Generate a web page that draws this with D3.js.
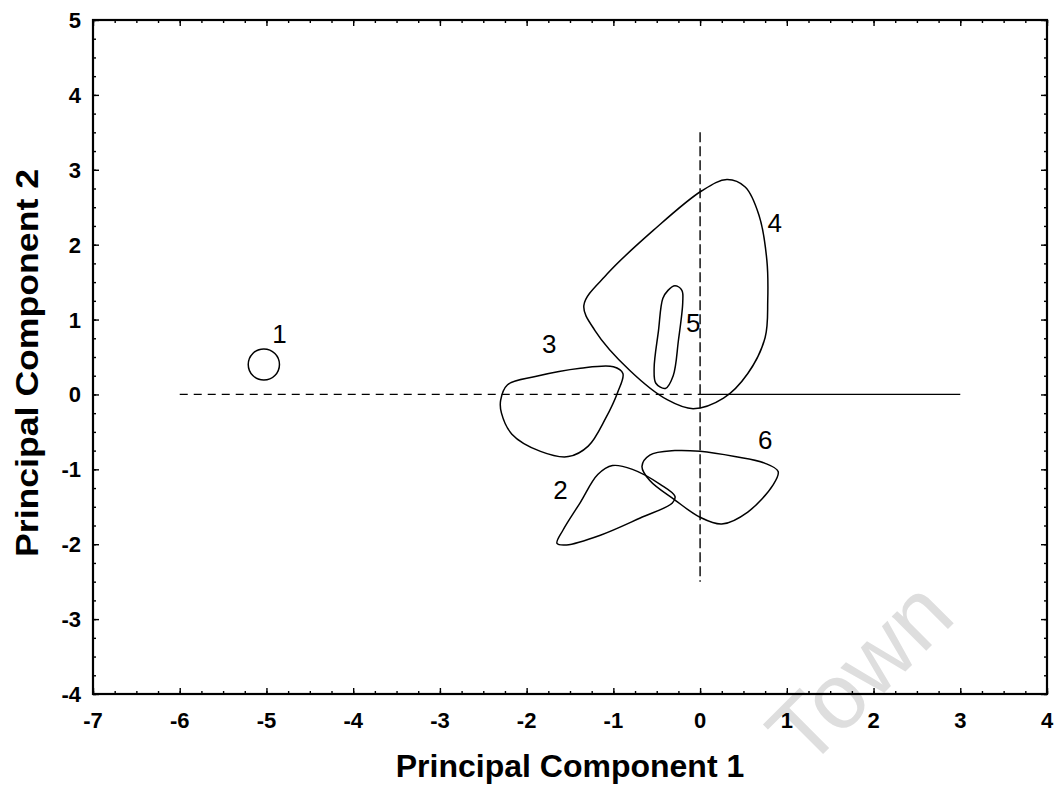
<!DOCTYPE html>
<html>
<head>
<meta charset="utf-8">
<script src="https://cdn.jsdelivr.net/npm/d3@7"></script>
<style>
  body { margin: 0; background: #fff; }
  svg { display: block; font-family: "Liberation Sans", Arial, sans-serif; }
  .tick-label { font-size: 22px; font-weight: bold; fill: #000; }
  .axis-title { font-size: 32px; font-weight: bold; fill: #000; }
  .group-label { font-size: 26px; fill: #000; }
</style>
</head>
<body>
<figure style="margin:0"></figure>
<script>
// tick values
const xTicks = [-7, -6, -5, -4, -3, -2, -1, 0, 1, 2, 3, 4];
const yTicks = [-4, -3, -2, -1, 0, 1, 2, 3, 4, 5];

// group 1 is a small circle
const group1Center = [-5.03, 0.4];
const group1Radius = 0.18;

// closed contours, [pc1, pc2]
const group2 = [[-1.01, -0.95], [-1.18, -1.07], [-1.38, -1.44], [-1.58, -1.81], [-1.65, -1.99],
  [-1.54, -2.01], [-1.15, -1.88], [-0.69, -1.65], [-0.32, -1.45], [-0.29, -1.36], [-0.46, -1.2], [-0.78, -1.0]];
const group3 = [[-2.3, -0.08], [-2.22, 0.13], [-1.9, 0.24], [-1.38, 0.35], [-1.0, 0.37], [-0.89, 0.28],
  [-0.95, 0.03], [-1.09, -0.32], [-1.29, -0.69], [-1.52, -0.83], [-1.84, -0.76], [-2.17, -0.53], [-2.29, -0.25]];
const group4 = [[-1.34, 1.19], [-1.07, 1.61], [-0.54, 2.19], [0.02, 2.72], [0.31, 2.87], [0.52, 2.77],
  [0.68, 2.39], [0.77, 1.79], [0.78, 1.25], [0.75, 0.76], [0.55, 0.28], [0.27, -0.05], [-0.08, -0.19],
  [-0.38, -0.07], [-0.81, 0.32], [-1.21, 0.85]];
const group5 = [[-0.37, 1.39], [-0.29, 1.45], [-0.21, 1.39], [-0.2, 1.23], [-0.25, 0.72], [-0.31, 0.25],
  [-0.4, 0.08], [-0.51, 0.15], [-0.53, 0.35], [-0.48, 0.85], [-0.43, 1.28]];
const group6 = [[-0.67, -0.96], [-0.58, -0.81], [-0.29, -0.75], [0, -0.76], [0.4, -0.83], [0.75, -0.92],
  [0.9, -1.03], [0.84, -1.21], [0.55, -1.57], [0.25, -1.73], [0, -1.64], [-0.29, -1.41], [-0.58, -1.15]];

const contours = [group2, group3, group4, group5, group6];

// group numbers and where they sit
const labelNames = ["1", "2", "3", "4", "5", "6"];
const labelPos = [[-4.85, 0.81], [-1.61, -1.27], [-1.74, 0.68], [0.86, 2.29], [-0.08, 0.96], [0.75, -0.61]];

// reference lines
const hDashed = [[-6, 0], [0, 0]];
const hSolid = [[0, 0], [3, 0]];
const vDashed = [[0, 3.5], [0, -2.5]];

const width = 1059;
const height = 790;
const margin = { top: 20, right: 12, bottom: 96, left: 93 };

const svg = d3.select("figure").append("svg")
  .attr("width", width)
  .attr("height", height);

const x = d3.scaleLinear().domain([-7, 4]).range([margin.left, width - margin.right]);
const y = d3.scaleLinear().domain([-4, 5]).range([height - margin.bottom, margin.top]);

// scanned-page watermark
svg.append("text")
  .attr("transform", "translate(958,619) rotate(-45)")
  .attr("text-anchor", "end")
  .style("font-size", "92px")
  .style("fill", "#dedede")
  .text("Town");

// minor ticks at quarter units
const xMinor = d3.range(-7, 4.001, 0.25);
const yMinor = d3.range(-4, 5.001, 0.25);

const tickSets = [
  [d3.axisBottom(x), xMinor, -3, `translate(0,${y(-4)})`],
  [d3.axisTop(x), xMinor, -3, `translate(0,${y(5)})`],
  [d3.axisLeft(y), yMinor, -3, `translate(${x(-7)},0)`],
  [d3.axisRight(y), yMinor, -3, `translate(${x(4)},0)`],
  [d3.axisBottom(x), xTicks, -6, `translate(0,${y(-4)})`],
  [d3.axisTop(x), xTicks, -6, `translate(0,${y(5)})`],
  [d3.axisLeft(y), yTicks, -6, `translate(${x(-7)},0)`],
  [d3.axisRight(y), yTicks, -6, `translate(${x(4)},0)`],
];
tickSets.forEach(([ax, vals, size, tr]) => {
  const g = svg.append("g")
    .attr("transform", tr)
    .call(ax.tickValues(vals).tickSize(size).tickFormat(""));
  g.select(".domain").remove();
  g.selectAll(".tick line").attr("stroke", "#000").attr("stroke-width", 1.4);
});

// frame
svg.append("rect")
  .attr("x", x(-7))
  .attr("y", y(5))
  .attr("width", x(4) - x(-7))
  .attr("height", y(-4) - y(5))
  .attr("fill", "none")
  .attr("stroke", "#000")
  .attr("stroke-width", 2.2);

// tick labels
svg.selectAll("text.xlab")
  .data(xTicks)
  .enter()
  .append("text")
  .attr("class", "tick-label xlab")
  .attr("x", (d) => x(d))
  .attr("y", y(-4) + 34)
  .attr("text-anchor", "middle")
  .text((d) => d);

svg.selectAll("text.ylab")
  .data(yTicks)
  .enter()
  .append("text")
  .attr("class", "tick-label ylab")
  .attr("x", x(-7) - 12)
  .attr("y", (d) => y(d) + 8)
  .attr("text-anchor", "end")
  .text((d) => d);

// axis titles
svg.append("text")
  .attr("class", "axis-title")
  .attr("x", (x(-7) + x(4)) / 2)
  .attr("y", 777)
  .attr("text-anchor", "middle")
  .text("Principal Component 1");

svg.append("text")
  .attr("class", "axis-title")
  .attr("transform", "translate(38,363) rotate(-90)")
  .attr("text-anchor", "middle")
  .attr("textLength", 388)
  .attr("lengthAdjust", "spacingAndGlyphs")
  .text("Principal Component 2");

// reference lines
const line = d3.line().x((d) => x(d[0])).y((d) => y(d[1]));

svg.append("path").attr("d", line(hDashed))
  .attr("fill", "none").attr("stroke", "#000").attr("stroke-width", 1.2)
  .attr("stroke-dasharray", "8,6");
svg.append("path").attr("d", line(hSolid))
  .attr("fill", "none").attr("stroke", "#000").attr("stroke-width", 1.2);
svg.append("path").attr("d", line(vDashed))
  .attr("fill", "none").attr("stroke", "#000").attr("stroke-width", 1.4)
  .attr("stroke-dasharray", "10,4");

// contours
const closed = d3.line()
  .x((d) => x(d[0]))
  .y((d) => y(d[1]))
  .curve(d3.curveCatmullRomClosed.alpha(0.5));

svg.selectAll("path.contour")
  .data(contours)
  .enter()
  .append("path")
  .attr("class", "contour")
  .attr("d", closed)
  .attr("fill", "none")
  .attr("stroke", "#000")
  .attr("stroke-width", 1.5);

svg.append("circle")
  .attr("cx", x(group1Center[0]))
  .attr("cy", y(group1Center[1]))
  .attr("r", x(group1Center[0] + group1Radius) - x(group1Center[0]))
  .attr("fill", "none")
  .attr("stroke", "#000")
  .attr("stroke-width", 1.5);

// group numbers
svg.selectAll("text.group-label")
  .data(labelNames)
  .enter()
  .append("text")
  .attr("class", "group-label")
  .attr("x", (d, i) => x(labelPos[i][0]))
  .attr("y", (d, i) => y(labelPos[i][1]) + 9)
  .attr("text-anchor", "middle")
  .text((d) => d);
</script>
</body>
</html>
